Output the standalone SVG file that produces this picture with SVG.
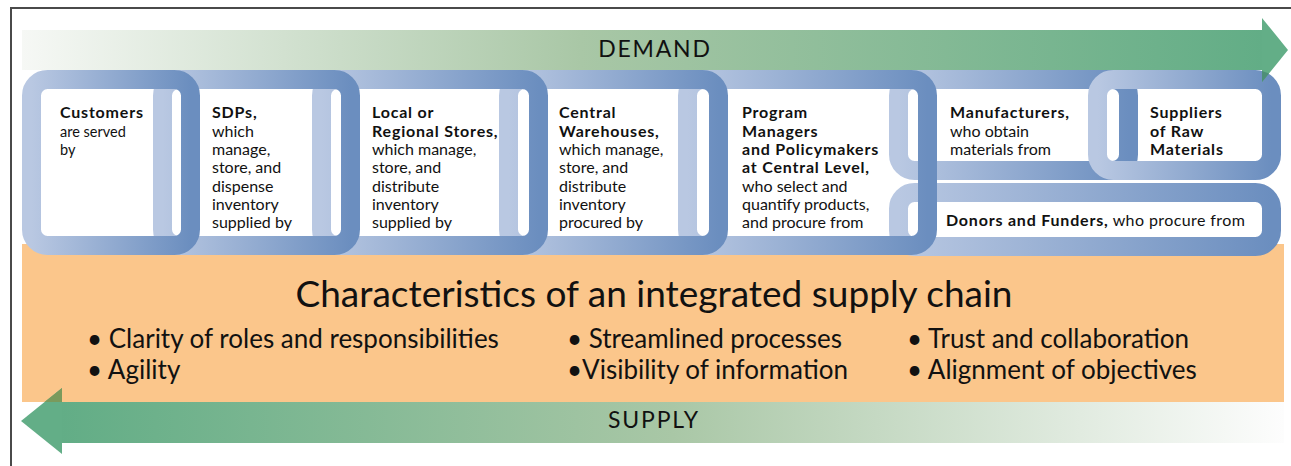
<svg xmlns="http://www.w3.org/2000/svg" width="1291" height="466" viewBox="0 0 1291 466">
<defs>
<linearGradient id="lg" x1="0" y1="0" x2="1" y2="0">
<stop offset="0" stop-color="#b9c8e2"/>
<stop offset="1" stop-color="#6b8ebf"/>
</linearGradient>
<linearGradient id="dem" x1="0" y1="0" x2="1" y2="0">
<stop offset="0" stop-color="#f6f8f5"/>
<stop offset="0.45" stop-color="#a9c7a6"/>
<stop offset="1" stop-color="#62ad86"/>
</linearGradient>
<linearGradient id="sup" x1="0" y1="0" x2="1" y2="0">
<stop offset="0" stop-color="#62ad86"/>
<stop offset="0.5" stop-color="#a9c7a6"/>
<stop offset="1" stop-color="#fdfdfd"/>
</linearGradient>
<style>
.lk{fill:none;stroke:url(#lg);stroke-width:19}
.t{font-family:Lato,"Liberation Sans",sans-serif;font-size:16px;fill:#111}
.s{font-size:14.5px}
.b{font-weight:bold;letter-spacing:0.8px}
.big{font-family:Lato,"Liberation Sans",sans-serif;fill:#111}
.arr{font-size:23px;letter-spacing:1.8px}
</style>
</defs>
<rect width="1291" height="466" fill="#fff"/>
<path d="M11 466V8H1291" fill="none" stroke="#4a4a4a" stroke-width="2"/>
<rect x="22" y="244" width="1262" height="158" fill="#fbc68b"/>
<g id="links">
<rect class="lk" x="898.5" y="192.5" width="373" height="54" rx="16"/>
<rect class="lk" x="898.5" y="79.5" width="230" height="91" rx="16"/>
<rect class="lk" x="1097.5" y="79.5" width="174" height="91" rx="16"/>
<rect class="lk" x="687.5" y="79.5" width="240" height="166" rx="16"/>
<rect class="lk" x="508.5" y="79.5" width="210" height="166" rx="16"/>
<rect class="lk" x="321.5" y="79.5" width="217" height="166" rx="16"/>
<rect class="lk" x="162.5" y="79.5" width="188" height="166" rx="16"/>
<rect class="lk" x="31.5" y="79.5" width="159" height="166" rx="16"/>
</g>
<g id="demand">
<rect x="22" y="30" width="1241" height="40" fill="url(#dem)"/>
<polygon points="1262,18 1288,50 1262,82" fill="#63ae87"/>
<polygon points="1262,71 1269,73.5 1262,82" fill="#4e8f78"/>
<text class="big arr" x="655" y="57" text-anchor="middle">DEMAND</text>
</g>
<g id="supply">
<rect x="61" y="402" width="1223" height="41" fill="url(#sup)"/>
<polygon points="62,388 21,421 62,454" fill="#63ae87"/>
<polygon points="62,388 44.6,402 62,402" fill="#7a9a5c"/>
<text class="big arr" x="654" y="428" text-anchor="middle">SUPPLY</text>
</g>
<g id="customers" class="t">
<text x="60" y="118" class="b">Customers</text>
<text x="60" y="137" class="s">are served</text>
<text x="60" y="155" class="s">by</text>
</g>
<g id="sdps" class="t">
<text x="212" y="118" class="b">SDPs,</text>
<text x="212" y="136.5">which</text>
<text x="212" y="155">manage,</text>
<text x="212" y="173">store, and</text>
<text x="212" y="191.5">dispense</text>
<text x="212" y="210">inventory</text>
<text x="212" y="228">supplied by</text>
</g>
<g id="local" class="t">
<text x="372" y="118" class="b">Local or</text>
<text x="372" y="136.5" class="b">Regional Stores,</text>
<text x="372" y="155">which manage,</text>
<text x="372" y="173">store, and</text>
<text x="372" y="191.5">distribute</text>
<text x="372" y="210">inventory</text>
<text x="372" y="228">supplied by</text>
</g>
<g id="central" class="t">
<text x="559" y="118" class="b">Central</text>
<text x="559" y="136.5" class="b">Warehouses,</text>
<text x="559" y="155">which manage,</text>
<text x="559" y="173">store, and</text>
<text x="559" y="191.5">distribute</text>
<text x="559" y="210">inventory</text>
<text x="559" y="228">procured by</text>
</g>
<g id="program" class="t">
<text x="742" y="118" class="b">Program</text>
<text x="742" y="136.5" class="b">Managers</text>
<text x="742" y="155" class="b">and Policymakers</text>
<text x="742" y="173" class="b">at Central Level,</text>
<text x="742" y="191.5">who select and</text>
<text x="742" y="210">quantify products,</text>
<text x="742" y="228">and procure from</text>
</g>
<g id="manufacturers" class="t">
<text x="950" y="118" class="b">Manufacturers,</text>
<text x="950" y="136.5">who obtain</text>
<text x="950" y="155">materials from</text>
</g>
<g id="suppliers" class="t">
<text x="1150" y="118" class="b">Suppliers</text>
<text x="1150" y="136.5" class="b">of Raw</text>
<text x="1150" y="155" class="b">Materials</text>
</g>
<g id="donors" class="t">
<text x="946" y="226"><tspan class="b">Donors and Funders,</tspan> <tspan letter-spacing="0.4">who procure from</tspan></text>
</g>
<g id="characteristics" class="big">
<text x="654" y="307" font-size="37" text-anchor="middle">Characteristics of an integrated supply chain</text>
<g font-size="26">
<text x="87" y="348">• Clarity of roles and responsibilities</text>
<text x="87" y="379">• Agility</text>
<text x="567" y="348">• Streamlined processes</text>
<text x="567" y="379">•Visibility of information</text>
<text x="907" y="348">• Trust and collaboration</text>
<text x="907" y="379">• Alignment of objectives</text>
</g>
</g>
</svg>
